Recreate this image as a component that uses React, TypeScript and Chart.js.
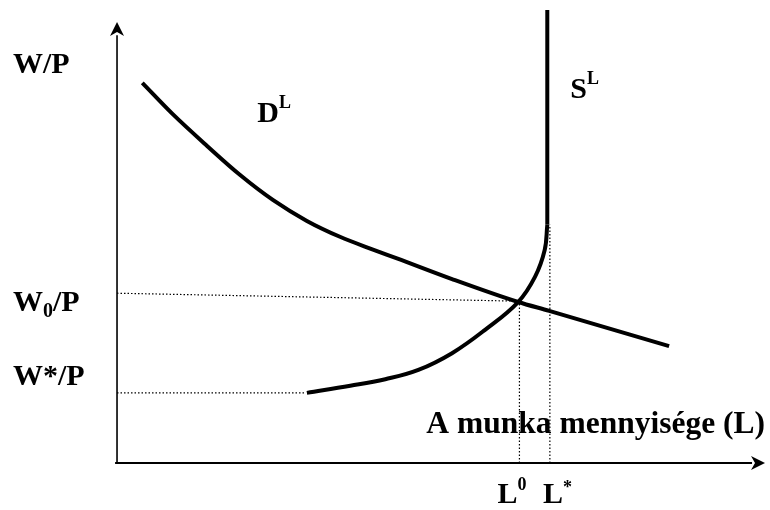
import React, { useEffect, useRef } from "react";
import { Chart, registerables } from "chart.js";

Chart.register(...registerables);

// Labour demand curve (quantity of labour L, real wage W/P)
const demandL = [0.39, 0.86, 1.39, 1.9, 2.41, 2.93, 3.44, 3.95, 4.32, 5.17, 6.19, 6.67, 8.52];
const demandW = [8.62, 7.91, 7.19, 6.53, 5.96, 5.49, 5.13, 4.84, 4.64, 4.17, 3.65, 3.45, 2.65];
// Labour supply curve (curved part)
const supplyL = [2.93, 3.6, 4.14, 4.65, 5.17, 5.68, 6.19, 6.45, 6.6, 6.64];
const supplyW = [1.59, 1.75, 1.9, 2.11, 2.49, 3.02, 3.65, 4.22, 4.83, 5.4];
// Labour supply curve (vertical part)
const verticalL = [6.64, 6.64];
const verticalW = [5.4, 10.27];
// reference levels
const w0Levels = [3.85, 3.67];
const wStarLevel = 1.59;
const wStarEndL = 2.9;
const l0Level = 6.21;
const l0Top = 3.65;
const lStarLevel = 6.68;
const lStarTop = 5.4;
const axisMax = 10;

const FONT = "'Liberation Serif', 'Times New Roman', serif";

const pts = (xs: number[], ys: number[]) => xs.map((x, i) => ({ x, y: ys[i] }));

export default function App() {
  const ref = useRef<HTMLCanvasElement | null>(null);

  useEffect(() => {
    document.body.style.margin = "0";
    const canvas = ref.current;
    if (!canvas) return;

    const solid = (data: { x: number; y: number }[], width: number) => ({
      data,
      showLine: true,
      borderColor: "#000",
      backgroundColor: "#000",
      borderWidth: width,
      pointRadius: 0,
      tension: 0,
      fill: false,
      borderCapStyle: "butt" as const,
    });
    const dotted = (data: { x: number; y: number }[]) => ({
      ...solid(data, 1.2),
      borderDash: [1.5, 2],
    });

    const overlay = {
      id: "overlay",
      afterDatasetsDraw(chart: any) {
        const ctx = chart.ctx as CanvasRenderingContext2D;
        const xs = chart.scales.x;
        const ys = chart.scales.y;
        const X = (v: number) => xs.getPixelForValue(v);
        const Y = (v: number) => ys.getPixelForValue(v);
        const ox = X(0);
        const oy = Y(0);
        const yTop = Y(axisMax);
        const xEnd = X(axisMax);
        ctx.save();
        ctx.fillStyle = "#000";
        // arrow heads
        ctx.beginPath();
        ctx.moveTo(ox, yTop);
        ctx.lineTo(ox - 7, yTop + 14);
        ctx.lineTo(ox, yTop + 10);
        ctx.lineTo(ox + 7, yTop + 14);
        ctx.closePath();
        ctx.fill();
        ctx.beginPath();
        ctx.moveTo(xEnd, oy);
        ctx.lineTo(xEnd - 14, oy - 7);
        ctx.lineTo(xEnd - 10, oy);
        ctx.lineTo(xEnd - 14, oy + 7);
        ctx.closePath();
        ctx.fill();

        ctx.textBaseline = "alphabetic";
        ctx.textAlign = "left";
        const big = `bold 30px ${FONT}`;
        const small = `bold 18px ${FONT}`;
        const seq = (parts: [string, string, number][], x: number, y: number) => {
          let cx = x;
          for (const [t, f, dy] of parts) {
            ctx.font = f;
            ctx.fillText(t, cx, y + dy);
            cx += ctx.measureText(t).width;
          }
        };
        // y-axis labels
        seq([["W/P", big, 0]], ox - 104, yTop + 51);
        seq([["W", big, 0], ["0", `bold 20px ${FONT}`, 6], ["/P", big, 0]], ox - 104, Y(w0Levels[0]) + 18);
        seq([["W*/P", big, 0]], ox - 104, Y(wStarLevel) - 8);
        // curve labels
        seq([["D", big, 0], ["L", small, -14]], X(demandL[0]) + 115, Y(demandW[0]) + 39);
        seq([["S", big, 0], ["L", small, -14]], X(verticalL[1]) + 23, Y(verticalW[1]) + 88);
        // x-axis labels
        seq([["L", big, 0], ["0", small, -13]], X(l0Level) - 22, oy + 40);
        seq([["L", big, 0], ["*", small, -10]], X(lStarLevel) - 7, oy + 40);
        ctx.font = `bold 31.5px ${FONT}`;
        ctx.textAlign = "right";
        ctx.fillText("A munka mennyisége (L)", xEnd, oy - 30);
        ctx.restore();
      },
    };

    const chart = new Chart(canvas, {
      type: "scatter",
      data: {
        datasets: [
          solid([{ x: -0.03, y: 0 }, { x: axisMax - 0.2, y: 0 }], 2),
          solid([{ x: 0, y: -0.02 }, { x: 0, y: axisMax - 0.3 }], 1.6),
          dotted([{ x: 0, y: w0Levels[0] }, { x: l0Level - 0.03, y: w0Levels[1] }]),
          dotted([{ x: 0, y: wStarLevel }, { x: wStarEndL, y: wStarLevel }]),
          dotted([{ x: l0Level, y: 0 }, { x: l0Level, y: l0Top }]),
          dotted([{ x: lStarLevel, y: 0 }, { x: lStarLevel, y: lStarTop }]),
          { ...solid(pts(demandL, demandW), 4), cubicInterpolationMode: "monotone" as const },
          { ...solid(pts(supplyL, supplyW), 4), tension: 0.4 },
          solid(pts(verticalL, verticalW), 4),
        ],
      },
      options: {
        animation: false,
        responsive: true,
        maintainAspectRatio: false,
        layout: { padding: 0 },
        plugins: { legend: { display: false }, tooltip: { enabled: false }, title: { display: false } },
        events: [],
        scales: {
          x: { type: "linear", display: false, min: -1.806, max: 10.077 },
          y: { type: "linear", display: false, min: -1.066, max: 10.499 },
        },
      },
      plugins: [overlay],
    });
    return () => chart.destroy();
  }, []);

  return (
    <div style={{ width: 770, height: 510, position: "relative", background: "#fff" }}>
      <canvas ref={ref} />
    </div>
  );
}
